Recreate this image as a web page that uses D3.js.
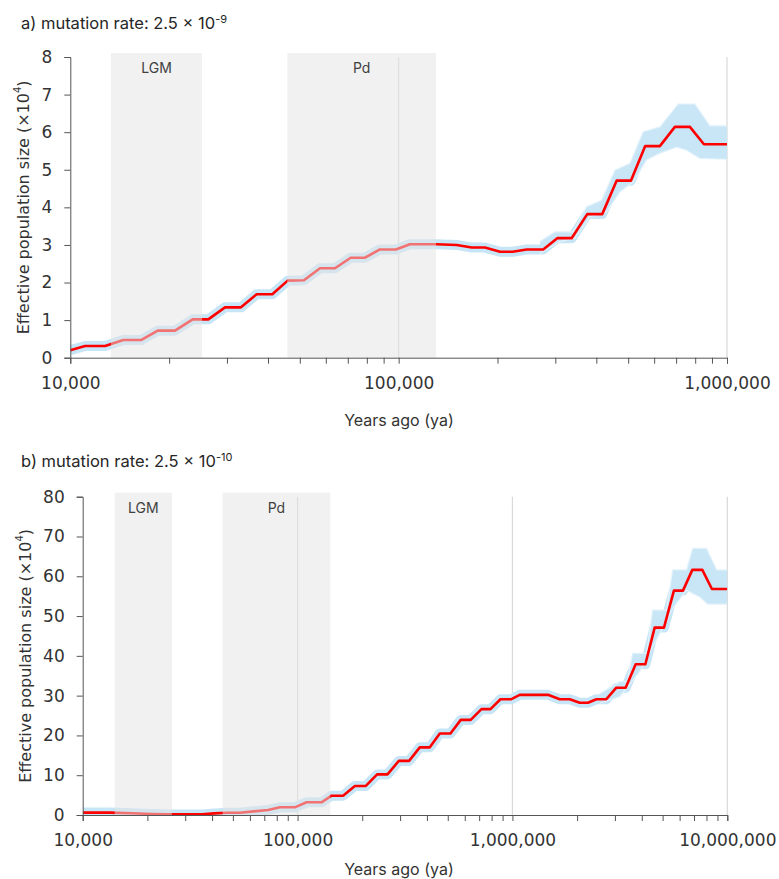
<!DOCTYPE html>
<html>
<head>
<meta charset="utf-8">
<script src="https://cdn.jsdelivr.net/npm/d3@7"></script>
<style>
  body { margin: 0; background: #fff; }
  svg { display: block; }
</style>
</head>
<body>
<svg id="chart"></svg>
<script>
// panel a) mutation rate 2.5e-9  (years ago, Ne x10^4)
let yearsA = [10000, 11090, 12760, 14500, 16420, 18460, 20840, 23590, 26320, 29590, 33100, 36950, 41230, 45920,
  51470, 57600, 63970, 71430, 78970, 87700, 98130, 108200, 130500, 150200, 166900, 183200, 203500, 222400,
  245400, 275600, 304100, 336400, 375300, 416900, 461100, 509700, 563500, 624500, 693900, 770900, 850600, 1000000]
let neA = [0.2, 0.31, 0.31, 0.47, 0.47, 0.72, 0.72, 1.02, 1.02, 1.34, 1.34, 1.69, 1.69, 2.05,
  2.06, 2.38, 2.38, 2.66, 2.66, 2.88, 2.88, 3.02, 3.02, 3.0, 2.93, 2.93, 2.82, 2.82,
  2.88, 2.88, 3.18, 3.18, 3.82, 3.82, 4.71, 4.71, 5.63, 5.63, 6.14, 6.14, 5.68, 5.68]

// bootstrap spread (upper / lower edge) where it widens
let upYearsA = [269300, 299200, 340000, 373700, 415100, 455700, 506200, 555700, 624500, 710200, 798500, 887100, 1000000]
let upA = [3.09, 3.35, 3.35, 4.02, 4.19, 4.99, 5.17, 6.01, 6.14, 6.75, 6.75, 6.17, 6.17]
let lowYearsA = [269300, 309900, 344300, 382400, 429900, 472000, 518100, 569000, 624500, 702300, 753500, 827000, 1000000]
let lowA = [2.78, 3.09, 3.18, 3.75, 3.88, 4.41, 4.68, 5.26, 5.44, 5.6, 5.52, 5.3, 5.28]

let shadeStartA = [13300, 45800]
let shadeEndA = [25200, 130000]
let xLabelsA = [10000, 100000, 1000000]
let yTicksA = [0, 1, 2, 3, 4, 5, 6, 7, 8]

// panel b) mutation rate 2.5e-10
let yearsB = [10000, 13400, 17000, 21000, 25000, 36000, 41000, 47000, 53900, 72900, 82700, 97100, 110100, 129300,
  143900, 162900, 184800, 207800, 234600, 262100, 296000, 330400, 370500, 412500, 459200, 514600, 574900, 639700,
  717500, 790300, 879500, 989200, 1081000, 1464000, 1660000, 1848000, 2056000, 2247000, 2459000, 2736000,
  3045000, 3365000, 3746000, 4155000, 4591000, 5073000, 5643000, 6218000, 6874000, 7652000, 8480000, 10000000]
let neB = [0.6, 0.6, 0.45, 0.25, 0.15, 0.15, 0.4, 0.55, 0.58, 1.26, 1.93, 1.93, 3.19, 3.19,
  4.85, 4.85, 7.3, 7.3, 10.2, 10.2, 13.6, 13.6, 17.0, 17.0, 20.5, 20.5, 23.9, 23.9,
  26.6, 26.6, 29.1, 29.1, 30.2, 30.2, 29.1, 29.1, 28.2, 28.2, 29.1, 29.1,
  32.0, 32.0, 37.9, 37.9, 47.1, 47.1, 56.4, 56.4, 61.6, 61.6, 56.8, 56.8]

let upYearsB = [2547000, 3155000, 3420000, 3626000, 4213000, 4494000, 5221000, 5570000, 6466000, 6895000, 8012000, 8918000, 10000000]
let upB = [30.5, 33.5, 33.5, 40.6, 40.6, 51.5, 51.5, 61.6, 61.6, 67.0, 67.0, 61.6, 61.6]
let lowYearsB = [2547000, 3155000, 3909000, 4676000, 5570000, 6445000, 7433000, 8097000, 10000000]
let lowB = [28.1, 29.7, 36.0, 44.0, 51.9, 56.5, 54.8, 53.0, 53.0]

let shadeStartB = [14100, 44800]
let shadeEndB = [26000, 142000]
let xLabelsB = [10000, 100000, 1000000, 10000000]
let yTicksB = [0, 10, 20, 30, 40, 50, 60, 70, 80]

let shadeNames = ["LGM", "Pd"]

let svgWidth = 779, svgHeight = 879
let svg = d3.select("#chart")
  .attr("width", svgWidth)
  .attr("height", svgHeight)

let tickFont = "DejaVu Sans, sans-serif"
let textFont = "Inter, sans-serif"

function drawPanel(p) {
  let x = d3.scaleLog().domain([p.xLabels[0], p.xLabels[p.xLabels.length - 1]]).range([p.left, p.right])
  let y = d3.scaleLinear().domain([0, p.yTicks[p.yTicks.length - 1]]).range([p.bottom, p.top])
  let g = svg.append("g")

  // keep the curves inside the plot box
  g.append("clipPath").attr("id", p.id)
    .append("rect")
    .attr("x", p.left).attr("y", p.top - 20)
    .attr("width", p.right - p.left).attr("height", p.bottom - p.top + 20)

  // vertical gridlines at the decades
  g.selectAll(".grid")
    .data(p.xLabels.slice(1))
    .enter()
    .append("line")
    .attr("x1", d => x(d)).attr("x2", d => x(d))
    .attr("y1", p.top).attr("y2", p.bottom)
    .attr("stroke", "#d9d9d9")
    .attr("stroke-width", 1.2)

  let pts = p.years.map((d, i) => [d, p.ne[i]])
  let line = d3.line().x(d => x(d[0])).y(d => y(d[1]))
  let curves = g.append("g").attr("clip-path", "url(#" + p.id + ")")

  // bootstrap band
  let up = p.upYears.map((d, i) => [d, p.up[i]])
  let low = p.lowYears.map((d, i) => [d, p.low[i]])
  curves.append("path")
    .attr("d", line(up.concat(low.slice().reverse())) + "Z")
    .attr("fill", "#c8e6f6")
  curves.append("path")
    .attr("d", line(pts))
    .attr("fill", "none")
    .attr("stroke", "#c6e5f6")
    .attr("stroke-width", 10)
    .attr("stroke-linejoin", "round")
  curves.selectAll(".edge")
    .data([up, low])
    .enter()
    .append("path")
    .attr("d", d => line(d))
    .attr("fill", "none")
    .attr("stroke", "#e3f2fb")
    .attr("stroke-width", 1.2)

  // median curve
  curves.append("path")
    .attr("d", line(pts))
    .attr("fill", "none")
    .attr("stroke", "#ff0000")
    .attr("stroke-width", 2.6)
    .attr("stroke-linejoin", "round")

  // shaded periods
  g.selectAll(".shade")
    .data(p.shadeStart)
    .enter()
    .append("rect")
    .attr("x", d => x(d))
    .attr("width", (d, i) => x(p.shadeEnd[i]) - x(d))
    .attr("y", p.top - 4)
    .attr("height", p.bottom - p.top + 4)
    .attr("fill", "#e4e4e4")
    .attr("opacity", 0.5)

  g.selectAll(".shadeLabel")
    .data(p.shadeStart)
    .enter()
    .append("text")
    .text((d, i) => shadeNames[i])
    .attr("x", (d, i) => x(Math.sqrt(d * p.shadeEnd[i])))
    .attr("y", p.top + 16)
    .attr("text-anchor", "middle")
    .attr("font-family", textFont)
    .attr("font-size", 14)
    .attr("fill", "#404040")

  // axes
  let xAxis = d3.axisBottom(x)
    .tickValues(x.ticks())
    .tickFormat(d => p.xLabels.includes(d) ? d3.format(",")(d) : "")
    .tickSize(6).tickPadding(13)
  let xg = g.append("g")
    .attr("transform", "translate(0," + p.bottom + ")")
    .call(xAxis)
  xg.selectAll("text").attr("font-family", tickFont).attr("font-size", 17).attr("fill", "#333")
  xg.selectAll("line, path").attr("stroke", "#555")

  let yAxis = d3.axisLeft(y).tickValues(p.yTicks).tickSize(6).tickPadding(12)
  let yg = g.append("g")
    .attr("transform", "translate(" + p.left + ",0)")
    .call(yAxis)
  yg.selectAll("text").attr("font-family", tickFont).attr("font-size", 17).attr("fill", "#333")
  yg.selectAll("line, path").attr("stroke", "#555")

  // titles
  let t = svg.append("text")
    .attr("x", 21).attr("y", p.titleY)
    .attr("font-family", textFont).attr("font-size", 16.5).attr("fill", "#262626")
  t.append("tspan").text(p.title)
  t.append("tspan").text(p.exp).attr("font-size", 11).attr("dy", -6)

  svg.append("text")
    .text("Years ago (ya)")
    .attr("x", 399).attr("y", p.xTitleY)
    .attr("text-anchor", "middle")
    .attr("font-family", textFont).attr("font-size", 16).attr("fill", "#333")

  let yt = svg.append("text")
    .attr("transform", "translate(" + p.yTitleX + "," + ((p.top + p.bottom) / 2) + ") rotate(-90)")
    .attr("text-anchor", "middle")
    .attr("dominant-baseline", "central")
    .attr("font-family", tickFont).attr("font-size", 16).attr("fill", "#333")
  yt.append("tspan").text("Effective population size (×10")
  yt.append("tspan").text("4").attr("font-size", 10).attr("dy", -6)
  yt.append("tspan").text(")").attr("dy", 6)
}

drawPanel({
  id: "clipA",
  years: yearsA, ne: neA, upYears: upYearsA, up: upA, lowYears: lowYearsA, low: lowA,
  shadeStart: shadeStartA, shadeEnd: shadeEndA, xLabels: xLabelsA, yTicks: yTicksA,
  left: 70.3, right: 727, top: 57, bottom: 357.7,
  title: "a) mutation rate: 2.5 × 10", exp: "-9", titleY: 29, xTitleY: 426, yTitleX: 23
})

drawPanel({
  id: "clipB",
  years: yearsB, ne: neB, upYears: upYearsB, up: upB, lowYears: lowYearsB, low: lowB,
  shadeStart: shadeStartB, shadeEnd: shadeEndB, xLabels: xLabelsB, yTicks: yTicksB,
  left: 82.7, right: 727.3, top: 496.7, bottom: 815,
  title: "b) mutation rate: 2.5 × 10", exp: "-10", titleY: 467, xTitleY: 875, yTitleX: 25
})
</script>
</body>
</html>
